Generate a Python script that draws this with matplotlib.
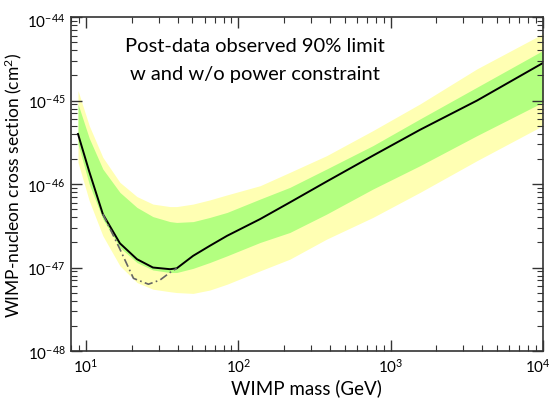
import numpy as np
import matplotlib
matplotlib.use("Agg")
import matplotlib.pyplot as plt
from matplotlib.ticker import FixedLocator, LogLocator, NullFormatter, LogFormatterSciNotation
from matplotlib.transforms import ScaledTranslation

plt.rcParams['font.family'] = ['Lato', 'DejaVu Sans']
plt.rcParams['mathtext.fontset'] = 'custom'
plt.rcParams['mathtext.rm'] = 'Lato'
plt.rcParams['mathtext.it'] = 'Lato:italic'

# WIMP masses (GeV)
mass = [8.86, 10.5, 12.9, 16.7, 21.6, 27.5, 35.6, 39.4, 50.5, 65, 84.4, 139, 218, 380, 765, 1560, 3690, 10000]
# log10 cross sections (cm^2)
median_log = [-45.40, -45.85, -46.36, -46.71, -46.90, -47.00, -47.02, -47.01, -46.86, -46.74, -46.62, -46.42, -46.22, -45.97, -45.66, -45.35, -45.00, -44.55]
yellow_hi = [-44.88, -45.30, -45.68, -45.98, -46.15, -46.24, -46.27, -46.27, -46.24, -46.19, -46.13, -46.02, -45.86, -45.66, -45.36, -45.04, -44.62, -44.20]
green_hi = [-45.04, -45.45, -45.82, -46.10, -46.28, -46.39, -46.45, -46.46, -46.45, -46.40, -46.34, -46.18, -46.04, -45.82, -45.54, -45.22, -44.84, -44.40]
green_lo = [-45.52, -46.00, -46.42, -46.76, -46.94, -47.03, -47.06, -47.06, -47.01, -46.94, -46.86, -46.70, -46.58, -46.36, -46.06, -45.78, -45.42, -45.02]
yellow_lo = [-45.74, -46.20, -46.62, -46.98, -47.18, -47.26, -47.29, -47.30, -47.31, -47.27, -47.20, -47.04, -46.90, -46.66, -46.40, -46.10, -45.72, -45.30]

# without power constraint (low-mass part)
mass_np = [12.9, 16.5, 20.5, 25.7, 30.6, 35.6, 39.4]
np_log = [-46.36, -46.76, -47.13, -47.20, -47.15, -47.06, -47.01]

x_major = [10, 100, 1000, 10000]
y_major = [1e-48, 1e-47, 1e-46, 1e-45, 1e-44]

def p(v):
    return 10.0 ** np.asarray(v)

fig = plt.figure(figsize=(5.54, 4.02), dpi=100)
ax = fig.add_axes([0.128, 0.1244, 0.852, 0.8306])

ax.fill_between(mass, p(yellow_lo), p(yellow_hi), color='#ffffb3', lw=0)
ax.fill_between(mass, p(green_lo), p(green_hi), color='#b3ff80', lw=0)
ax.plot(mass, p(median_log), color='black', lw=1.4)
ax.plot(mass_np, p(np_log), color='#666666', lw=1.2, linestyle=(0, (5, 2, 1, 2)))

ax.set_xscale('log')
ax.set_yscale('log')
ax.set_xlim(7.96, 1e4)
ax.set_ylim(1e-48, 1e-44)

ax.xaxis.set_major_locator(FixedLocator(x_major))
ax.xaxis.set_major_formatter(LogFormatterSciNotation())
ax.xaxis.set_minor_locator(LogLocator(base=10, subs=np.arange(2, 10), numticks=10))
ax.yaxis.set_major_locator(FixedLocator(y_major))
ax.yaxis.set_major_formatter(LogFormatterSciNotation())
ax.yaxis.set_minor_locator(LogLocator(base=10, subs=np.arange(2, 10), numticks=10))
ax.xaxis.set_minor_formatter(NullFormatter())
ax.yaxis.set_minor_formatter(NullFormatter())

ax.tick_params(which='both', direction='in', top=True, right=True, colors='#333333', labelcolor='black')
ax.tick_params(which='major', length=8, width=1, labelsize=11, pad=4)
ax.tick_params(which='minor', length=4, width=0.8)
for s in ax.spines.values():
    s.set_color('#333333')
    s.set_linewidth(1.2)

ax.set_xlabel('WIMP mass (GeV)', fontsize=13.5, labelpad=3)
ax.set_ylabel('WIMP-nucleon cross section (cm$^2$)', fontsize=12.5)
ax.yaxis.set_label_coords(-0.1, 0.5)

ax.text(0.39, 0.915, 'Post-data observed 90% limit', transform=ax.transAxes,
        ha='center', va='center', fontsize=14.5)
ax.text(0.39, 0.83, 'w and w/o power constraint', transform=ax.transAxes,
        ha='center', va='center', fontsize=14.5)

# keep the last x tick label inside the figure, as in the original
last = ax.xaxis.get_major_ticks()[-1].label1
last.set_transform(last.get_transform() + ScaledTranslation(-5 / 100, 0, fig.dpi_scale_trans))
# nudge the top y label down slightly
top = ax.yaxis.get_major_ticks()[-1].label1
top.set_transform(top.get_transform() + ScaledTranslation(0, -2 / 100, fig.dpi_scale_trans))

fig.savefig('out.png', dpi=100)
